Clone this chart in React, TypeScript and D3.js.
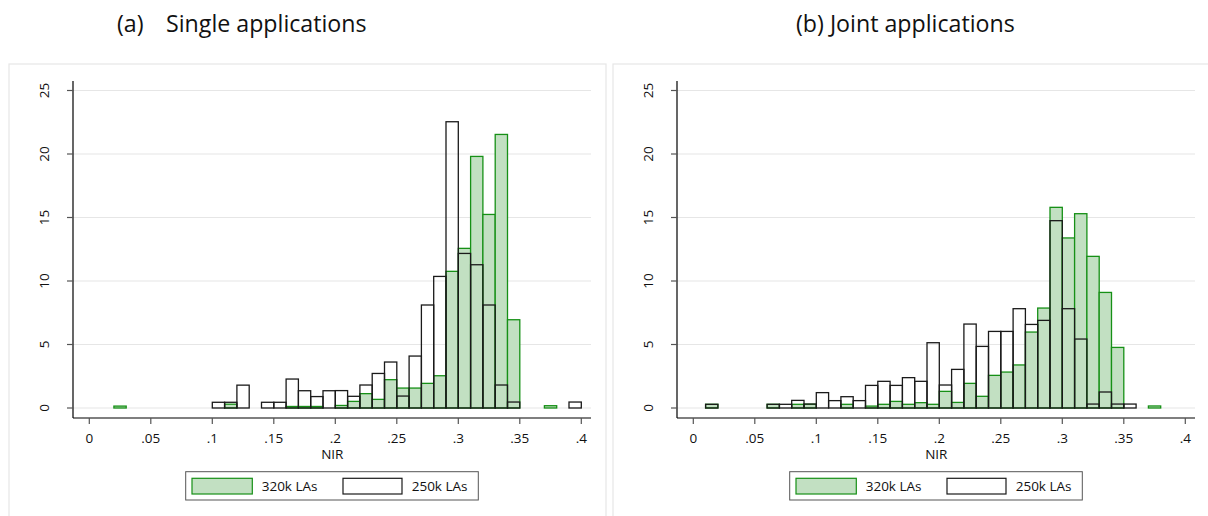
import React from "react";
import * as d3 from "d3";

// Bin lower edges: 0, .01, ..., .39 (bin width .01); values are percent
const binStarts: number[] = d3.range(0, 40).map((i) => i / 100);

const singleLA320: number[] = [
  0, 0, 0.15, 0, 0, 0, 0, 0, 0, 0,
  0, 0.3, 0, 0, 0, 0, 0.12, 0.12, 0.12, 0,
  0.2, 0.52, 1.13, 0.68, 2.23, 1.57, 1.57, 1.94, 2.54, 10.76,
  12.57, 19.81, 15.24, 21.54, 6.95, 0, 0, 0.18, 0, 0,
];
const singleLA250: number[] = [
  0, 0, 0, 0, 0, 0, 0, 0, 0, 0,
  0.45, 0.45, 1.8, 0, 0.45, 0.45, 2.28, 1.36, 0.9, 1.36,
  1.37, 0.92, 1.81, 2.72, 3.62, 0.94, 4.09, 8.11, 10.36, 22.54,
  12.17, 11.28, 8.11, 1.81, 0.47, 0, 0, 0, 0, 0.47,
];
const jointLA320: number[] = [
  0, 0.29, 0, 0, 0, 0, 0.29, 0, 0.29, 0.3,
  0, 0, 0.29, 0, 0.15, 0.29, 0.52, 0.29, 0.42, 0.29,
  1.31, 0.44, 1.94, 0.92, 2.57, 2.83, 3.39, 5.98, 7.87, 15.8,
  13.39, 15.3, 11.94, 9.1, 4.77, 0, 0, 0.16, 0, 0,
];
const jointLA250: number[] = [
  0, 0.29, 0, 0, 0, 0, 0.29, 0.29, 0.6, 0.31,
  1.21, 0.58, 0.89, 0.58, 1.78, 2.1, 1.78, 2.39, 2.1, 5.14,
  1.81, 3.04, 6.61, 4.85, 6.03, 6.03, 7.82, 6.58, 6.9, 14.75,
  7.82, 5.43, 0.31, 1.26, 0.31, 0.31, 0, 0, 0, 0,
];

const xTicks: number[] = [0, 0.05, 0.1, 0.15, 0.2, 0.25, 0.3, 0.35, 0.4];
const xTickLabels: string[] = ["0", ".05", ".1", ".15", ".2", ".25", ".3", ".35", ".4"];
const yTicks: number[] = [0, 5, 10, 15, 20, 25];
const seriesNames: string[] = ["320k LAs", "250k LAs"];
const binWidth = 0.01;

const FONT = "'Open Sans', Lato, sans-serif";
const GREEN_STROKE = "#169016";
const GREEN_FILL = "#c2e0c2";

function Panel({ dx, green, white }: { dx: number; green: number[]; white: number[] }) {
  const x = d3.scaleLinear().domain([0, 0.4]).range([89.3 + dx, 581.3 + dx]);
  const y = d3.scaleLinear().domain([0, 25]).range([408, 90.5]);
  const axisX = 73 + dx;
  const axisY = 418;
  const plotRight = 591 + dx;
  const bars = (vals: number[], fill: string, stroke: string) =>
    vals.map((v, i) =>
      v > 0 ? (
        <rect
          key={i}
          x={x(binStarts[i])}
          y={y(v)}
          width={x(binStarts[i] + binWidth) - x(binStarts[i])}
          height={y(0) - y(v)}
          fill={fill}
          stroke={stroke}
          strokeWidth={1.3}
        />
      ) : null
    );
  const cx = (x(0) + x(0.4)) / 2;
  return (
    <g>
      {yTicks.map((t) => (
        <line key={"g" + t} x1={axisX} x2={plotRight} y1={y(t)} y2={y(t)} stroke="#e6e6e6" strokeWidth={1.2} />
      ))}
      {bars(green, GREEN_FILL, GREEN_STROKE)}
      {bars(white, "none", "#1a1a1a")}
      <line x1={axisX} x2={axisX} y1={81} y2={axisY} stroke="#000" strokeWidth={1.2} />
      <line x1={axisX} x2={plotRight} y1={axisY} y2={axisY} stroke="#000" strokeWidth={1.2} />
      {yTicks.map((t) => (
        <g key={"y" + t}>
          <line x1={axisX - 6} x2={axisX} y1={y(t)} y2={y(t)} stroke="#555" strokeWidth={1.2} />
          <text
            transform={`translate(${axisX - 24},${y(t)}) rotate(-90)`}
            textAnchor="middle"
            fontSize={13.5}
            fontFamily={FONT}
            fill="#111"
          >
            {t}
          </text>
        </g>
      ))}
      {xTicks.map((t, i) => (
        <g key={"x" + i}>
          <line x1={x(t)} x2={x(t)} y1={axisY} y2={axisY + 6} stroke="#555" strokeWidth={1.2} />
          <text x={x(t)} y={443} textAnchor="middle" fontSize={13.5} fontFamily={FONT} fill="#111">
            {xTickLabels[i]}
          </text>
        </g>
      ))}
      <text x={cx - 3} y={459} textAnchor="middle" fontSize={13.5} fontFamily={FONT} fill="#111">
        NIR
      </text>
      <rect x={185.7 + dx} y={471.7} width={292.6} height={28.3} fill="#fff" stroke="#555" strokeWidth={1} />
      <rect x={192 + dx} y={478.3} width={60.3} height={15.7} fill={GREEN_FILL} stroke={GREEN_STROKE} strokeWidth={1.2} />
      <text x={261.7 + dx} y={491} fontSize={13.5} fontFamily={FONT} fill="#111">
        {seriesNames[0]}
      </text>
      <rect x={343 + dx} y={478.3} width={59} height={15.7} fill="#fff" stroke="#1a1a1a" strokeWidth={1.2} />
      <text x={411.7 + dx} y={491} fontSize={13.5} fontFamily={FONT} fill="#111">
        {seriesNames[1]}
      </text>
    </g>
  );
}

export default function App() {
  return (
    <svg
      width={1208}
      height={516}
      style={{ position: "absolute", left: 0, top: 0, background: "#fff" }}
    >
      <rect x={0} y={0} width={1208} height={516} fill="#fff" />
      <rect x={9} y={64} width={597} height={470} fill="#fff" stroke="#e6e6e6" strokeWidth={1.2} />
      <rect x={613} y={64} width={610} height={470} fill="#fff" stroke="#e6e6e6" strokeWidth={1.2} />
      <text x={117} y={32} fontSize={23.2} fontFamily={FONT} fill="#111">
        (a)
      </text>
      <text x={166} y={32} fontSize={23.2} fontFamily={FONT} fill="#111">
        Single applications
      </text>
      <text x={796} y={32} fontSize={23.2} fontFamily={FONT} fill="#111">
        (b) Joint applications
      </text>
      <Panel dx={0} green={singleLA320} white={singleLA250} />
      <Panel dx={604} green={jointLA320} white={jointLA250} />
    </svg>
  );
}
